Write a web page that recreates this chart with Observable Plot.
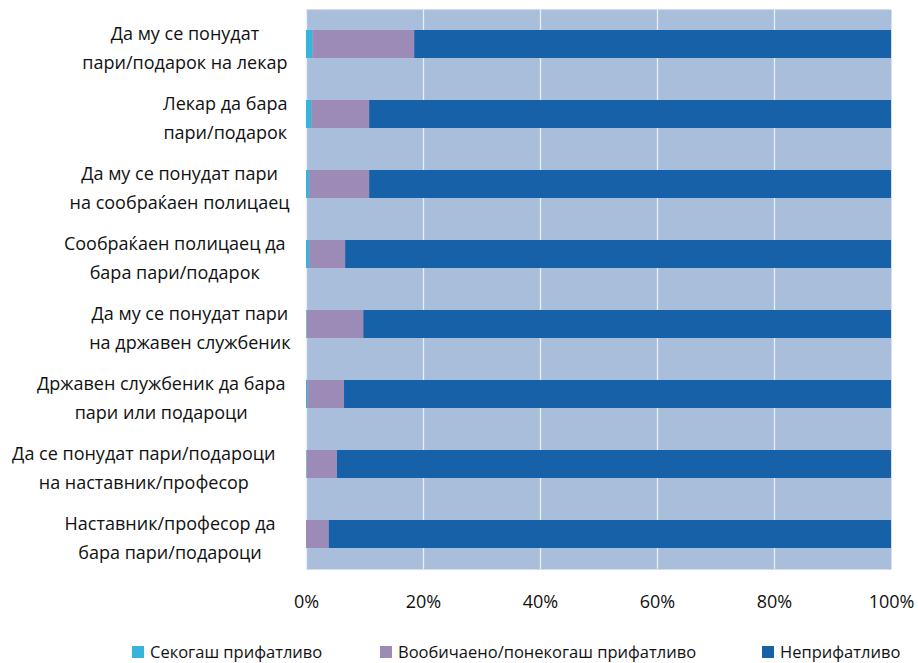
<!DOCTYPE html>
<html><head><meta charset="utf-8">
<script src="https://cdn.jsdelivr.net/npm/d3@7"></script>
<script src="https://cdn.jsdelivr.net/npm/@observablehq/plot@0.6"></script>
<style>
body{margin:0;background:#fff;font-family:"Open Sans",sans-serif;}
#wrap{position:relative;width:918px;height:663px;}
#legend{position:absolute;top:640px;left:0;width:918px;height:23px;font-size:16.5px;color:#111;}
.li{position:absolute;top:0;display:flex;align-items:center;white-space:nowrap;}
.sw{width:12px;height:12px;margin-right:6px;display:inline-block;}
</style></head><body>
<div id="wrap"><div id="chart"></div><div id="legend"></div></div>
<script>
const categories = [
  "Да му се понудат\nпари/подарок на лекар",
  "Лекар да бара\nпари/подарок",
  "Да му се понудат пари\nна сообраќаен полицаец",
  "Сообраќаен полицаец да\nбара пари/подарок",
  "Да му се понудат пари\nна државен службеник",
  "Државен службеник да бара\nпари или подароци",
  "Да се понудат пари/подароци\nна наставник/професор",
  "Наставник/професор да\nбара пари/подароци"
];
const seriesNames = ["Секогаш прифатливо", "Вообичаено/понекогаш прифатливо", "Неприфатливо"];
const always    = [1.1, 0.9, 0.5, 0.5, 0.1, 0.2, 0.1, 0.0];
const sometimes = [17.4, 9.9, 10.3, 6.2, 9.7, 6.3, 5.2, 3.9];
const never     = [81.5, 89.2, 89.2, 93.3, 90.2, 93.5, 94.7, 96.1];
const xTicks = [0, 20, 40, 60, 80, 100];
const colors = ["#35B5DA", "#9D8BB7", "#1661A8"];

const seriesValues = [always, sometimes, never];
const rows = [];
categories.forEach((c, i) => seriesValues.forEach((arr, s) => rows.push({cat: c, series: seriesNames[s], value: arr[i]})));

const labelSize = 18;
const labelGaps = [19, 19, 17, 21, 16, 21, 31, 31];
const ctx = document.createElement("canvas").getContext("2d");
ctx.font = `${labelSize}px "Open Sans"`;
const widths = categories.map(c => Math.max(...c.split("\n").map(l => ctx.measureText(l).width)));

const labelMarks = categories.map((c, i) => Plot.text([c], {
  y: d => d, text: d => d, frameAnchor: "left", textAnchor: "middle",
  dx: -(labelGaps[i] + widths[i] / 2), dy: 1, lineHeight: 1.6, fontSize: labelSize, fill: "#111"
}));

const chart = Plot.plot({
  width: 918, height: 620,
  marginLeft: 306, marginRight: 27, marginTop: 9, marginBottom: 51,
  style: {fontFamily: '"Open Sans", sans-serif', fontSize: "18px", color: "#111"},
  x: {domain: [0, 100], label: null},
  y: {domain: categories, paddingInner: 0.6, paddingOuter: 0.3, axis: null},
  color: {domain: seriesNames, range: colors},
  marks: [
    Plot.frame({fill: "#A9BEDB", stroke: null}),
    Plot.ruleX(xTicks.slice(0, -1), {stroke: "#E8EEF6", strokeWidth: 1.3}),
    Plot.barX(rows, Plot.stackX({y: "cat", x: "value", fill: "series", order: null})),
    Plot.axisX({ticks: xTicks, tickFormat: d => d + "%", tickSize: 0, tickPadding: 26, fontSize: 18, label: null}),
    ...labelMarks
  ]
});
document.getElementById("chart").appendChild(chart);

const legendPos = [132, 380, 762];
const lg = document.getElementById("legend");
seriesNames.forEach((n, i) => {
  const d = document.createElement("div");
  d.className = "li"; d.style.left = legendPos[i] + "px";
  d.innerHTML = `<span class="sw" style="background:${colors[i]}"></span><span>${n}</span>`;
  lg.appendChild(d);
});
</script></body></html>
